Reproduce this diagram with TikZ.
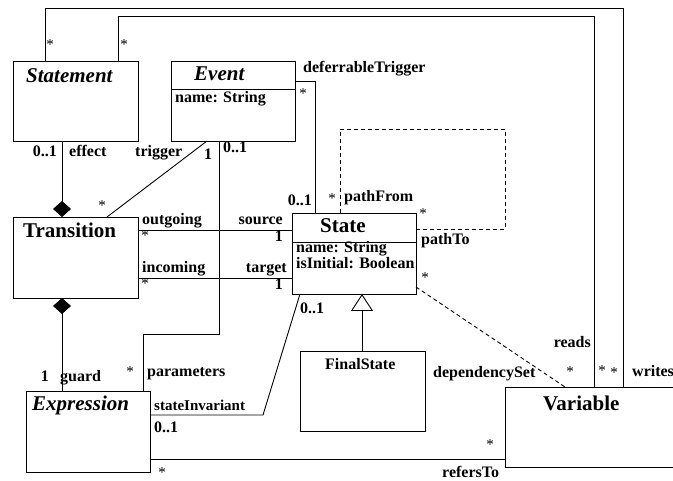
\documentclass[tikz,border=0pt]{standalone}
\usepackage{fontspec}
\setmainfont{Liberation Serif}
\usetikzlibrary{calc,arrows.meta}

\tikzset{
  box/.style={draw, line width=0.9pt, inner sep=0pt, outer sep=0pt, rectangle},
  conn/.style={line width=0.9pt},
  dconn/.style={line width=0.9pt, dash pattern=on 4pt off 3pt},
  lbl/.style={inner sep=0pt, font=\fontsize{16}{18}\selectfont\bfseries},
  mult/.style={inner sep=0pt, font=\fontsize{15}{17}\selectfont},
  title/.style={inner sep=0pt, font=\fontsize{21}{24}\selectfont\bfseries},
  ititle/.style={inner sep=0pt, font=\fontsize{21}{24}\selectfont\bfseries\itshape},
}

\begin{document}
\begin{tikzpicture}[x=1pt, y=-1pt]
\useasboundingbox (0,0) rectangle (673,481);

% ---------- classes ----------
\node[box, minimum width=125pt, minimum height=80pt] (stmt)  at (75.5,101)   {};
\node[box, minimum width=124pt, minimum height=80pt] (event) at (233,101)    {};
\node[box, minimum width=125pt, minimum height=81pt] (trans) at (75.5,257.5) {};
\node[box, minimum width=124pt, minimum height=81pt] (state) at (354,253.5)  {};
\node[box, minimum width=125pt, minimum height=80pt] (final) at (362.5,391)  {};
\node[box, minimum width=124pt, minimum height=81pt] (expr)  at (88,431.5)   {};
% Variable runs past the right margin: only three sides are drawn
\node[box, draw=none, minimum width=200pt, minimum height=80pt] (var) at (605,427) {};
\draw[conn] (var.north east) -- (var.north west) -- (var.south west) -- (var.south east);

% compartment lines
\draw[conn] ($(event.north west)+(0,28)$) -- ($(event.north east)+(0,28)$);
\draw[conn] ($(state.north west)+(0,29)$) -- ($(state.north east)+(0,29)$);

% class names and attributes
\node[ititle, anchor=base west] (tStmt)  at (26,83)   {Statement};
\node[ititle, anchor=base west] (tEvent) at (194,81)  {Event};
\node[lbl,    anchor=base west] (aEvent) at (175,103) {name: String};
\node[title,  anchor=base west] (tTrans) at (23,238)  {Transition};
\node[title,  anchor=base west] (tState) at (320,233) {State};
\node[lbl,    anchor=base west] (aState1) at (296,253) {name: String};
\node[lbl,    anchor=base west] (aState2) at (296,269) {isInitial: Boolean};
\node[lbl,    anchor=base west] (tFinal) at (325,370) {FinalState};
\node[ititle, anchor=base west] (tExpr)  at (32,410)  {Expression};
\node[title,  anchor=base west] (tVar)   at (543,411) {Variable};

% ---------- associations ----------
% writes / reads
\draw[conn] ($(stmt.north west)+(32,0)$) -- ++(0,-53) -| ($(var.north west)+(118,0)$);
\draw[conn] ($(stmt.north west)+(105,0)$) -- ++(0,-45) -| ($(var.north west)+(89,0)$);

% deferrableTrigger
\draw[conn] ($(event.north east)+(0,20)$) -| ($(state.north west)+(23,0)$);

% pathFrom / pathTo self association
\draw[dconn] ($(state.north west)+(48,0)$) -- ++(0,-84) -- ++(165,0)
             |- ($(state.north east)+(0,16)$);

% outgoing / source, incoming / target
\coordinate (tOut) at ($(trans.north east)+(0,13)$);
\coordinate (tIn)  at ($(trans.north east)+(0,61)$);
\draw[conn] (tOut) -- (tOut -| state.west);
\draw[conn] (tIn)  -- (tIn -| state.west);

% trigger
\draw[conn] ($(event.south west)+(36,0)$) -- ($(trans.north west)+(94,0)$);

% effect (composition)
\draw[conn, -{Diamond[length=16pt, width=18pt]}]
  ($(stmt.south west)+(49,0)$) -- ($(trans.north west)+(49,0)$);

% guard (composition)
\draw[conn, {Diamond[length=16pt, width=18pt]}-]
  ($(trans.south west)+(49,0)$) -- ($(expr.north west)+(36,0)$);

% parameters
\draw[conn] ($(expr.north west)+(117,0)$) -- ++(0,-57) -| ($(event.south west)+(48,0)$);

% stateInvariant
\draw[conn] ($(expr.north east)+(0,24)$) -- ++(113,0) -- ($(state.south west)+(8,0)$);

% dependencySet
\draw[dconn] ($(state.north east)+(0,74)$) -- ($(var.north west)+(60,0)$);

% refersTo
\coordinate (eRef) at ($(expr.north east)+(0,68)$);
\draw[conn] (eRef) -- (eRef -| var.west);

% generalization FinalState -> State
\draw[conn, -{Triangle[open, length=17pt, width=22pt, fill=white]}]
  ($(final.north west)+(62,0)$) -- ($(state.south west)+(70,0)$);

% ---------- association end labels ----------
\node[mult] (m1) at (50,45) {*};
\node[mult] (m2) at (124,45) {*};

\node[lbl, anchor=base west] (l1) at (303,73) {deferrableTrigger};
\node[mult] (m3) at (303,94) {*};

\node[lbl, anchor=base east] (l2) at (57,157) {0..1};
\node[lbl, anchor=base west] (l3) at (69,157) {effect};
\node[lbl, anchor=base west] (l4) at (135,157) {trigger};
\node[lbl, anchor=base west] (l5) at (204,160) {1};
\node[lbl, anchor=base west] (l6) at (223,153) {0..1};
\node[mult] (m4) at (102,206) {*};

\node[lbl, anchor=base west] (l7) at (142,225) {outgoing};
\node[mult] (m5) at (145,236) {*};
\node[lbl, anchor=base east] (l8) at (283,225) {source};
\node[lbl, anchor=base east] (l9) at (283,242) {1};
\node[lbl, anchor=base west] (l10) at (142,273) {incoming};
\node[mult] (m6) at (145,284) {*};
\node[lbl, anchor=base east] (l11) at (287,273) {target};
\node[lbl, anchor=base east] (l12) at (283,290) {1};

\node[lbl, anchor=base east] (l13) at (312,206) {0..1};
\node[mult] (m7) at (332,199) {*};
\node[lbl, anchor=base west] (l14) at (344,202) {pathFrom};
\node[mult] (m8) at (423,214) {*};
\node[lbl, anchor=base west] (l15) at (421,245) {pathTo};
\node[mult] (m9) at (425,278) {*};
\node[lbl, anchor=base west] (l16) at (300,314) {0..1};

\node[lbl, anchor=base east] (l17) at (591,348) {reads};
\node[mult] (m10) at (570,372) {*};
\node[lbl, anchor=base west] (l18) at (433,378) {dependencySet};
\node[mult] (m11) at (602,371) {*};
\node[mult] (m12) at (614,373) {*};
\node[lbl, anchor=base west] (l19) at (632,377) {writes};

\node[lbl, anchor=base east] (l20) at (49,382) {1};
\node[lbl, anchor=base west] (l21) at (60,382) {guard};
\node[mult] (m13) at (130,372) {*};
\node[lbl, anchor=base west] (l22) at (147,377) {parameters};

\node[lbl, anchor=base west, font=\fontsize{15}{17}\selectfont\bfseries] (l23) at (154,411) {stateInvariant};
\node[lbl, anchor=base west] (l24) at (154,432) {0..1};
\node[mult] (m14) at (162,473) {*};

\node[mult] (m15) at (490,445) {*};
\node[lbl, anchor=base west] (l25) at (442,478) {refersTo};
\end{tikzpicture}
\end{document}
